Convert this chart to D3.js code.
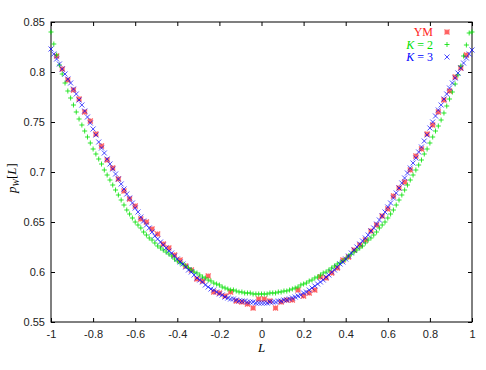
<!DOCTYPE html>
<html>
<head>
<meta charset="utf-8">
<script src="https://cdn.jsdelivr.net/npm/d3@7"></script>
<style>
  body { margin: 0; background: #fff; }
  svg { display: block; }
</style>
</head>
<body>
<script>
// p_W[L] for YM, K = 2 and K = 3

// L grid (shared by K = 2 and K = 3)
let L = [
  -1, -0.9867, -0.9733, -0.96, -0.9467, -0.9333, -0.92, -0.9067, -0.8933, -0.88,
  -0.8667, -0.8533, -0.84, -0.8267, -0.8133, -0.8, -0.7867, -0.7733, -0.76, -0.7467,
  -0.7333, -0.72, -0.7067, -0.6933, -0.68, -0.6667, -0.6533, -0.64, -0.6267, -0.6133,
  -0.6, -0.5867, -0.5733, -0.56, -0.5467, -0.5333, -0.52, -0.5067, -0.4933, -0.48,
  -0.4667, -0.4533, -0.44, -0.4267, -0.4133, -0.4, -0.3867, -0.3733, -0.36, -0.3467,
  -0.3333, -0.32, -0.3067, -0.2933, -0.28, -0.2667, -0.2533, -0.24, -0.2267, -0.2133,
  -0.2, -0.1867, -0.1733, -0.16, -0.1467, -0.1333, -0.12, -0.1067, -0.0933, -0.08,
  -0.0667, -0.0533, -0.04, -0.0267, -0.0133, 0,
  0.0133, 0.0267, 0.04, 0.0533, 0.0667, 0.08, 0.0933, 0.1067, 0.12, 0.1333,
  0.1467, 0.16, 0.1733, 0.1867, 0.2, 0.2133, 0.2267, 0.24, 0.2533, 0.2667,
  0.28, 0.2933, 0.3067, 0.32, 0.3333, 0.3467, 0.36, 0.3733, 0.3867, 0.4,
  0.4133, 0.4267, 0.44, 0.4533, 0.4667, 0.48, 0.4933, 0.5067, 0.52, 0.5333,
  0.5467, 0.56, 0.5733, 0.5867, 0.6, 0.6133, 0.6267, 0.64, 0.6533, 0.6667,
  0.68, 0.6933, 0.7067, 0.72, 0.7333, 0.7467, 0.76, 0.7733, 0.7867, 0.8,
  0.8133, 0.8267, 0.84, 0.8533, 0.8667, 0.88, 0.8933, 0.9067, 0.92, 0.9333,
  0.9467, 0.96, 0.9733, 0.9867, 1
];

// K = 2 (green +)
let k2 = [
  0.840, 0.828, 0.817, 0.807, 0.798, 0.789, 0.781, 0.774, 0.767, 0.760,
  0.753, 0.747, 0.741, 0.735, 0.729, 0.723, 0.718, 0.713, 0.708, 0.702,
  0.697, 0.692, 0.687, 0.682, 0.677, 0.672, 0.667, 0.662, 0.658, 0.654,
  0.650, 0.647, 0.644, 0.640, 0.637, 0.634, 0.632, 0.629, 0.626, 0.624,
  0.622, 0.620, 0.618, 0.616, 0.613, 0.611, 0.609, 0.608, 0.606, 0.604,
  0.602, 0.600, 0.599, 0.597, 0.595, 0.594, 0.592, 0.591, 0.589, 0.588,
  0.587, 0.585, 0.584, 0.583, 0.582, 0.582, 0.581, 0.580, 0.580, 0.579,
  0.579, 0.579, 0.578, 0.578, 0.578, 0.578,
  0.578, 0.578, 0.579, 0.579, 0.579, 0.580, 0.580, 0.581, 0.581, 0.582,
  0.583, 0.584, 0.585, 0.587, 0.588, 0.589, 0.591, 0.592, 0.594, 0.595,
  0.597, 0.599, 0.600, 0.602, 0.604, 0.606, 0.608, 0.609, 0.611, 0.613,
  0.616, 0.618, 0.620, 0.622, 0.624, 0.626, 0.629, 0.632, 0.634, 0.637,
  0.640, 0.644, 0.647, 0.650, 0.654, 0.658, 0.662, 0.667, 0.672, 0.677,
  0.682, 0.687, 0.692, 0.697, 0.702, 0.707, 0.712, 0.718, 0.723, 0.729,
  0.735, 0.741, 0.746, 0.752, 0.759, 0.766, 0.773, 0.780, 0.788, 0.797,
  0.806, 0.816, 0.827, 0.839, 0.840
];

// K = 3 (blue x)
let k3 = [
  0.823, 0.818, 0.813, 0.808, 0.803, 0.798, 0.793, 0.789, 0.783, 0.778,
  0.772, 0.767, 0.761, 0.755, 0.749, 0.743, 0.737, 0.730, 0.724, 0.719,
  0.713, 0.708, 0.703, 0.698, 0.693, 0.688, 0.683, 0.678, 0.674, 0.669,
  0.664, 0.660, 0.655, 0.651, 0.647, 0.644, 0.640, 0.636, 0.633, 0.630,
  0.627, 0.624, 0.621, 0.619, 0.616, 0.613, 0.610, 0.608, 0.605, 0.602,
  0.600, 0.597, 0.594, 0.592, 0.590, 0.587, 0.585, 0.583, 0.582, 0.580,
  0.578, 0.577, 0.575, 0.574, 0.573, 0.573, 0.572, 0.571, 0.571, 0.571,
  0.570, 0.570, 0.570, 0.569, 0.569, 0.569,
  0.569, 0.569, 0.570, 0.570, 0.570, 0.571, 0.571, 0.572, 0.572, 0.573,
  0.574, 0.575, 0.576, 0.577, 0.579, 0.580, 0.582, 0.584, 0.586, 0.588,
  0.590, 0.592, 0.595, 0.597, 0.600, 0.602, 0.605, 0.608, 0.610, 0.613,
  0.616, 0.619, 0.622, 0.625, 0.628, 0.631, 0.634, 0.637, 0.641, 0.644,
  0.648, 0.652, 0.656, 0.660, 0.665, 0.669, 0.674, 0.679, 0.684, 0.689,
  0.694, 0.699, 0.704, 0.709, 0.714, 0.720, 0.725, 0.731, 0.737, 0.744,
  0.750, 0.756, 0.762, 0.767, 0.773, 0.778, 0.784, 0.789, 0.794, 0.799,
  0.804, 0.809, 0.814, 0.818, 0.822
];

// YM (red *), every other L point, from L = -0.9733 to 0.9733
let ym = [
  0.816, 0.803, 0.792, 0.782, 0.773, 0.760, 0.751, 0.738, 0.726, 0.712,
  0.704, 0.693, 0.681, 0.673, 0.666, 0.653, 0.650, 0.643, 0.638, 0.628,
  0.624, 0.617, 0.612, 0.606, 0.602, 0.593, 0.591, 0.596, 0.580, 0.579,
  0.576, 0.580, 0.571, 0.570, 0.568, 0.564, 0.573,
  0.573, 0.571, 0.564, 0.570, 0.572, 0.572, 0.582, 0.576, 0.579, 0.582,
  0.595, 0.594, 0.599, 0.604, 0.612, 0.615, 0.622, 0.627, 0.632, 0.641,
  0.647, 0.656, 0.663, 0.676, 0.684, 0.690, 0.702, 0.716, 0.723, 0.738,
  0.747, 0.760, 0.772, 0.781, 0.795, 0.804, 0.817
];

let xTicks = [-1, -0.8, -0.6, -0.4, -0.2, 0, 0.2, 0.4, 0.6, 0.8, 1];
let yTicks = [0.55, 0.6, 0.65, 0.7, 0.75, 0.8, 0.85];

let width = 486, height = 370;
let mLeft = 51, mRight = 472, mTop = 22, mBottom = 322;

let svg = d3.select("body")
  .append("svg")
  .attr("width", width)
  .attr("height", height);

let x = d3.scaleLinear().domain([-1, 1]).range([mLeft, mRight]);
let y = d3.scaleLinear().domain([0.55, 0.85]).range([mBottom, mTop]);

let tickFont = "'Liberation Sans', Arial, sans-serif";
let serif = "'Liberation Serif', 'Times New Roman', serif";

// axes with inward ticks
let gx = svg.append("g")
  .attr("transform", `translate(0,${mBottom})`)
  .call(d3.axisBottom(x).tickValues(xTicks).tickSize(-4).tickPadding(8)
    .tickFormat(d => String(d)));
let gy = svg.append("g")
  .attr("transform", `translate(${mLeft},0)`)
  .call(d3.axisLeft(y).tickValues(yTicks).tickSize(-4).tickPadding(6)
    .tickFormat(d => String(d)));
let gt = svg.append("g")
  .attr("transform", `translate(0,${mTop})`)
  .call(d3.axisTop(x).tickValues(xTicks).tickSize(-4).tickFormat(""));
let gr = svg.append("g")
  .attr("transform", `translate(${mRight},0)`)
  .call(d3.axisRight(y).tickValues(yTicks).tickSize(-4).tickFormat(""));

[gx, gy, gt, gr].forEach(g => {
  g.select(".domain").remove();
  g.selectAll(".tick line").attr("stroke", "#000");
  g.selectAll("text")
    .style("font-family", tickFont)
    .style("font-size", "11px")
    .attr("fill", "#222");
});

// border
svg.append("rect")
  .attr("x", mLeft)
  .attr("y", mTop)
  .attr("width", mRight - mLeft)
  .attr("height", mBottom - mTop)
  .attr("fill", "none")
  .attr("stroke", "#000")
  .attr("stroke-width", 1);

// point shapes
let s = 2.5;
let plus = `M${-s},0H${s}M0,${-s}V${s}`;
let cross = `M${-s},${-s}L${s},${s}M${-s},${s}L${s},${-s}`;
let star = plus + cross;

let ymData = ym.map((v, i) => [L[2 + 2 * i], v]);
let k2Data = k2.map((v, i) => [L[i], v]);
let k3Data = k3.map((v, i) => [L[i], v]);

function drawPoints(data, path, color, opacity, sw) {
  svg.append("g")
    .selectAll("path")
    .data(data)
    .join("path")
    .attr("transform", d => `translate(${x(d[0])},${y(d[1])})`)
    .attr("d", path)
    .attr("fill", "none")
    .attr("stroke", color)
    .attr("stroke-width", sw)
    .attr("opacity", opacity);
}

drawPoints(ymData, star, "#ff2020", 0.7, 1.3);
drawPoints(k2Data, plus, "#00e000", 0.8, 1);
drawPoints(k3Data, cross, "#0000ff", 0.7, 1);

// legend
let legend = [
  { label: "YM", path: star, color: "#ff2020", op: 0.7, sw: 1.3 },
  { label: "2", path: plus, color: "#00e000", op: 0.8, sw: 1 },
  { label: "3", path: cross, color: "#0000ff", op: 0.7, sw: 1 }
];

legend.forEach((d, i) => {
  let ly = 32 + i * 12.5;
  let t = svg.append("text")
    .attr("x", 433)
    .attr("y", ly + 4)
    .attr("text-anchor", "end")
    .attr("fill", d.color)
    .style("font-family", serif)
    .style("font-size", "12px");
  if (i === 0) {
    t.text(d.label);
  } else {
    t.append("tspan").style("font-style", "italic").text("K");
    t.append("tspan").attr("dx", 3).text("=");
    t.append("tspan").attr("dx", 3).text(d.label);
  }
  svg.append("path")
    .attr("transform", `translate(447,${ly})`)
    .attr("d", d.path)
    .attr("fill", "none")
    .attr("stroke", d.color)
    .attr("stroke-width", d.sw)
    .attr("opacity", d.op);
});

// axis titles
svg.append("text")
  .attr("x", (mLeft + mRight) / 2)
  .attr("y", 352)
  .attr("text-anchor", "middle")
  .style("font-family", serif)
  .style("font-style", "italic")
  .style("font-size", "13px")
  .text("L");

let yl = svg.append("text")
  .attr("transform", "translate(16,178) rotate(-90)")
  .attr("text-anchor", "middle")
  .style("font-family", serif)
  .style("font-size", "13px");
yl.append("tspan").style("font-style", "italic").text("p");
yl.append("tspan").style("font-style", "italic").style("font-size", "9px").attr("dy", 3).text("W");
yl.append("tspan").attr("dy", -3).text("[");
yl.append("tspan").style("font-style", "italic").text("L");
yl.append("tspan").text("]");
</script>
</body>
</html>
